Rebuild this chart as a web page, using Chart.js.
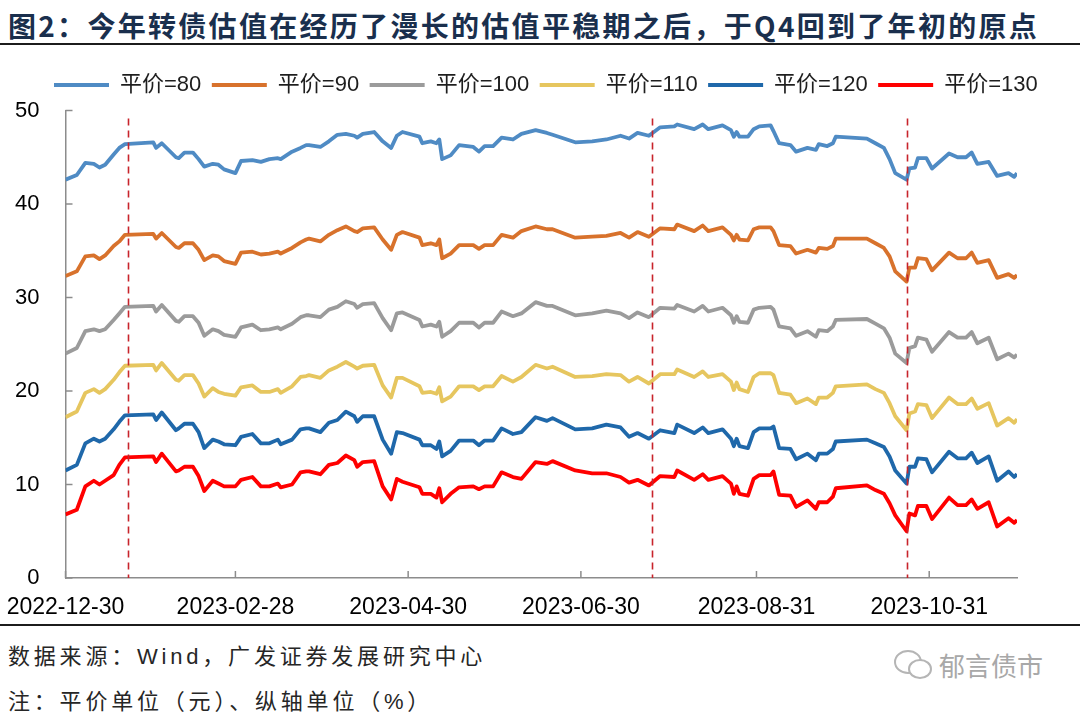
<!DOCTYPE html>
<html>
<head>
<meta charset="utf-8">
<script src="https://cdn.jsdelivr.net/npm/chart.js@4.4.1/dist/chart.umd.min.js"></script>
<style>
  html, body { margin: 0; padding: 0; background: #fff; }
  #page { position: relative; width: 1080px; height: 713px; overflow: hidden; font-family: "Liberation Sans", "Noto Sans CJK SC", sans-serif; }
  #title { position: absolute; left: 8px; top: 5px; font: bold 28px "Noto Sans CJK SC", sans-serif; letter-spacing: 2.3px; color: #1a2f4d; white-space: nowrap; }
  .rule { position: absolute; left: 0; width: 1080px; height: 2px; background: #1c1c1c; }
  #chartBox { position: absolute; left: 0; top: 48px; width: 1080px; height: 577px; }
  .note { position: absolute; left: 8px; font: 22px "Liberation Sans", "Noto Sans CJK SC", sans-serif; letter-spacing: 3.8px; color: #262626; white-space: nowrap; }
  #mark { position: absolute; left: 893px; top: 646px; display: flex; align-items: center; color: #a8a8a8; font: 26px "Noto Sans CJK SC", sans-serif; }
</style>
</head>
<body>
<div id="page">
  <div id="title">图2：今年转债估值在经历了漫长的估值平稳期之后，于Q4回到了年初的原点</div>
  <div class="rule" style="top:43px"></div>
  <div id="chartBox"><canvas id="valChart" width="1080" height="577"></canvas></div>
  <div class="rule" style="top:624px"></div>
  <div class="note" style="top:638px">数据来源：Wind，广发证券发展研究中心</div>
  <div class="note" style="top:683px">注：平价单位（元）、纵轴单位（%）</div>
  <div id="mark">
    <svg width="42" height="34" viewBox="0 0 42 34"><ellipse cx="15" cy="14" rx="13" ry="11" fill="none" stroke="#b5b5b5" stroke-width="2"/><ellipse cx="27" cy="21" rx="11" ry="9" fill="#fff" stroke="#b5b5b5" stroke-width="2"/></svg>
    <span style="margin-left:4px">郁言债市</span>
  </div>
</div>
<script>
  // day offsets from 2022-12-30
  const days = [0, 4, 7, 10, 12, 14, 17, 19, 21, 31, 32, 34, 39, 40, 42, 45, 47, 49, 52, 54, 56, 60, 62, 66, 69, 72, 75, 76, 80, 83, 85,
    86, 90, 93, 96, 99, 102, 103, 105, 109, 112, 115, 117, 119, 125, 126, 129, 131, 132, 133, 136, 139, 144, 146, 148, 151, 154, 158, 161, 166, 170,
    172, 180, 186, 191, 196, 199, 202, 206, 210, 215, 216, 222, 225, 227, 232, 235, 236, 237, 238, 241, 243, 245, 249, 250, 252,
    256, 258, 262, 265, 266, 269, 271, 272, 283, 286, 289, 291, 293, 297, 298, 300, 301, 304, 306, 312, 315, 318, 320, 322, 326, 329, 333, 335, 336];

  const p80 = [42.6, 43.1, 44.4, 44.3, 43.9, 44.2, 45.3, 46.0, 46.4, 46.6, 46.0, 46.5, 45.0, 44.9, 45.5, 45.5, 44.8, 44.0, 44.3, 44.2, 43.7, 43.3, 44.6, 44.7, 44.5, 44.8, 44.9, 44.8, 45.6, 46.0, 46.3,
    46.3, 46.1, 46.7, 47.4, 47.5, 47.3, 47.1, 47.5, 47.7, 46.7, 46.0, 47.3, 47.7, 47.2, 46.5, 46.7, 46.5, 46.9, 44.8, 45.2, 46.3, 46.1, 45.6, 46.2, 46.2, 47.1, 46.9, 47.5, 47.9, 47.6,
    47.4, 46.6, 46.7, 46.9, 47.3, 47.0, 47.6, 47.3, 48.2, 48.3, 48.5, 48.0, 48.5, 48.0, 48.4, 47.9, 47.2, 47.7, 47.2, 47.2, 48.0, 48.3, 48.4, 47.8, 46.5,
    46.3, 45.6, 46.0, 45.8, 46.4, 46.2, 46.5, 47.2, 47.0, 46.5, 46.0, 44.8, 43.3, 42.6, 43.8, 43.9, 44.9, 44.9, 43.8, 45.4, 45.0, 45.0, 45.5, 44.3, 44.5, 43.0, 43.3, 42.9, 43.3];
  const p90 = [32.3, 32.8, 34.4, 34.5, 34.1, 34.5, 35.5, 36.0, 36.7, 36.8, 36.3, 36.9, 35.4, 35.3, 35.8, 35.8, 35.1, 34.0, 34.5, 34.4, 33.9, 33.6, 34.8, 34.9, 34.6, 34.7, 34.9, 34.7, 35.3, 35.9, 36.2,
    36.3, 36.0, 36.7, 37.2, 37.6, 37.1, 37.0, 37.4, 37.5, 36.2, 35.1, 36.7, 37.0, 36.4, 35.6, 35.8, 35.6, 36.2, 34.2, 34.7, 35.6, 35.6, 35.2, 35.6, 35.6, 36.7, 36.4, 37.1, 37.6, 37.3,
    37.3, 36.4, 36.5, 36.6, 36.9, 36.4, 37.0, 36.5, 37.4, 37.3, 37.8, 37.1, 37.7, 37.1, 37.5, 36.7, 36.1, 36.7, 36.2, 36.1, 37.3, 37.5, 37.5, 37.1, 35.6,
    35.5, 34.7, 35.1, 34.8, 35.3, 35.2, 35.5, 36.3, 36.3, 35.8, 35.3, 34.4, 32.8, 31.7, 33.2, 33.2, 34.2, 34.1, 32.9, 34.8, 34.2, 34.2, 34.8, 33.7, 34.0, 32.1, 32.5, 32.1, 32.4];
  const p100 = [24.0, 24.6, 26.4, 26.6, 26.4, 26.6, 27.6, 28.3, 29.0, 29.1, 28.5, 29.2, 27.5, 27.4, 28.0, 28.0, 27.3, 25.9, 26.6, 26.4, 26.0, 25.8, 26.8, 27.1, 26.5, 26.6, 26.8, 26.6, 27.2, 27.9, 28.1,
    28.1, 27.9, 28.7, 29.0, 29.6, 29.3, 28.9, 29.3, 29.4, 27.8, 26.5, 28.3, 28.4, 27.6, 26.9, 27.1, 26.9, 27.4, 25.8, 26.4, 27.3, 27.3, 26.8, 27.3, 27.3, 28.5, 28.0, 28.3, 29.5, 29.1,
    29.1, 28.1, 28.3, 28.6, 28.3, 27.8, 28.4, 27.9, 28.9, 28.8, 29.2, 28.5, 29.1, 28.5, 28.9, 28.1, 27.3, 28.0, 27.4, 27.3, 28.7, 28.9, 29.0, 28.7, 26.9,
    26.7, 25.9, 26.4, 25.8, 26.5, 26.4, 26.9, 27.6, 27.7, 27.2, 26.7, 25.7, 24.0, 23.0, 24.6, 24.8, 25.7, 25.5, 24.2, 26.3, 25.7, 25.7, 26.3, 25.1, 25.7, 23.4, 24.0, 23.6, 23.9];
  const p110 = [17.2, 17.8, 19.8, 20.2, 19.8, 20.2, 21.2, 22.0, 22.7, 22.8, 22.2, 23.0, 21.2, 21.1, 21.7, 21.7, 20.8, 19.4, 20.3, 19.9, 19.7, 19.5, 20.4, 20.6, 19.9, 19.9, 20.2, 19.8, 20.5, 21.5, 21.6,
    21.7, 21.4, 22.2, 22.6, 23.1, 22.6, 22.4, 22.7, 22.8, 20.6, 19.3, 21.4, 21.4, 20.5, 19.8, 19.9, 19.7, 20.4, 18.9, 19.4, 20.5, 20.5, 20.1, 20.5, 20.5, 21.6, 21.0, 21.5, 22.8, 22.4,
    22.6, 21.5, 21.6, 21.8, 21.7, 21.0, 21.5, 20.8, 21.8, 21.8, 22.3, 21.5, 22.1, 21.5, 21.8, 21.0, 20.1, 20.9, 20.2, 19.9, 21.5, 21.9, 21.9, 21.7, 19.8,
    19.6, 18.7, 19.2, 18.6, 19.3, 19.3, 19.8, 20.5, 20.7, 20.2, 19.8, 18.7, 17.3, 15.8, 17.6, 17.8, 18.6, 18.5, 17.1, 19.3, 18.6, 18.6, 19.2, 18.1, 18.7, 16.3, 17.1, 16.6, 17.0];
  const p120 = [11.5, 12.1, 14.4, 14.9, 14.6, 14.9, 15.9, 16.7, 17.4, 17.5, 16.9, 17.7, 15.8, 16.0, 16.5, 16.5, 15.6, 13.9, 14.8, 14.6, 14.3, 14.2, 15.1, 15.4, 14.4, 14.4, 14.8, 14.3, 14.8, 15.9, 16.0,
    16.0, 15.6, 16.6, 16.9, 17.8, 17.3, 16.7, 17.3, 17.3, 14.8, 13.3, 15.6, 15.5, 14.8, 14.2, 14.2, 13.8, 14.6, 13.0, 13.6, 14.7, 14.7, 14.2, 14.7, 14.7, 16.0, 15.4, 15.6, 17.2, 16.8,
    17.1, 15.9, 16.0, 16.4, 16.1, 15.1, 15.5, 14.9, 15.8, 15.5, 16.4, 15.5, 16.1, 15.5, 15.9, 14.9, 14.1, 14.9, 14.1, 13.9, 15.6, 16.0, 16.0, 16.2, 13.9,
    13.8, 12.7, 13.3, 12.6, 13.3, 13.3, 13.8, 14.6, 14.8, 14.4, 14.0, 13.0, 11.5, 10.1, 11.9, 11.9, 12.8, 12.7, 11.3, 13.5, 12.8, 12.8, 13.4, 12.3, 13.0, 10.4, 11.4, 10.8, 11.1];
  const p130 = [6.8, 7.3, 9.8, 10.4, 10.0, 10.4, 11.0, 12.1, 12.9, 13.0, 12.4, 13.3, 11.4, 11.5, 11.9, 11.9, 10.9, 9.3, 10.4, 10.1, 9.8, 9.8, 10.5, 10.8, 9.8, 9.8, 10.1, 9.7, 10.0, 11.3, 11.4,
    11.4, 11.1, 12.1, 12.3, 13.1, 12.6, 11.9, 12.4, 12.5, 9.8, 8.4, 10.6, 10.3, 9.7, 9.0, 9.0, 8.6, 9.6, 8.1, 9.0, 9.7, 9.8, 9.5, 9.8, 9.8, 11.3, 10.8, 10.6, 12.4, 12.2,
    12.5, 11.5, 11.2, 11.2, 10.8, 10.2, 10.5, 9.9, 10.9, 10.8, 11.5, 10.5, 11.1, 10.5, 10.9, 10.1, 9.0, 9.8, 9.0, 8.8, 10.6, 11.0, 11.0, 11.4, 8.9,
    8.8, 7.6, 8.3, 7.4, 8.1, 8.1, 8.7, 9.6, 9.9, 9.4, 9.0, 8.0, 6.7, 5.0, 6.9, 6.7, 7.7, 7.7, 6.3, 8.6, 7.8, 7.8, 8.4, 7.4, 8.1, 5.5, 6.4, 5.9, 6.2];

  const seriesNames = ['平价=80', '平价=90', '平价=100', '平价=110', '平价=120', '平价=130'];
  const seriesValues = [p80, p90, p100, p110, p120, p130];
  const seriesColors = ['#4f8bc4', '#d8722c', '#9b9b9b', '#e6c65f', '#1f68aa', '#ff0000'];

  const tickDays = [0, 60, 121, 182, 244, 305];
  const tickLabels = ['2022-12-30', '2023-02-28', '2023-04-30', '2023-06-30', '2023-08-31', '2023-10-31'];
  const markerDays = [22, 207, 297];
  const yTicks = [0, 10, 20, 30, 40, 50];

  const axisColor = '#8c8c8c';
  const baseFont = '"Liberation Sans", "Noto Sans CJK SC", sans-serif';

  const extras = {
    id: 'extras',
    beforeInit(chart) {
      // one legend row, a little taller, shifted right like the original
      const legend = chart.legend;
      const upd = legend.update;
      legend.update = function (w, h, m) { upd.call(this, w + 120, h, m); };
      const fit = legend.fit;
      legend.fit = function () { fit.call(this); this.height += 4.5; };
    },
    afterLayout(chart) {
      chart.legend.left += 43.5;
      chart.legend.right += 80;
    },
    afterDatasetsDraw(chart) {
      const {ctx, chartArea, scales: {x}} = chart;
      ctx.save();
      ctx.strokeStyle = '#c8242b';
      ctx.lineWidth = 1.6;
      ctx.setLineDash([7, 5]);
      markerDays.forEach(d => {
        const px = Math.round(x.getPixelForValue(d)) + 0.5;
        ctx.beginPath();
        ctx.moveTo(px, chartArea.top + 8);
        ctx.lineTo(px, chartArea.bottom);
        ctx.stroke();
      });
      ctx.restore();
    },
    afterDraw(chart) {
      // tick marks point inward
      const {ctx, chartArea, scales: {x, y}} = chart;
      ctx.save();
      ctx.strokeStyle = axisColor;
      ctx.lineWidth = 1.5;
      y.ticks.forEach(t => {
        const py = y.getPixelForValue(t.value);
        ctx.beginPath();
        ctx.moveTo(chartArea.left, py);
        ctx.lineTo(chartArea.left + 7, py);
        ctx.stroke();
      });
      x.ticks.forEach(t => {
        const px = x.getPixelForValue(t.value);
        ctx.beginPath();
        ctx.moveTo(px, chartArea.bottom);
        ctx.lineTo(px, chartArea.bottom - 7);
        ctx.stroke();
      });
      ctx.restore();
    }
  };

  const ctx = document.getElementById('valChart').getContext('2d');
  new Chart(ctx, {
    type: 'line',
    data: {
      datasets: seriesNames.map((name, i) => ({
        label: name,
        data: days.map((d, j) => ({x: d, y: seriesValues[i][j]})),
        borderColor: seriesColors[i],
        backgroundColor: seriesColors[i],
        borderWidth: 3.8,
        pointRadius: 0,
        tension: 0,
        borderJoinStyle: 'round'
      }))
    },
    options: {
      responsive: false,
      animation: false,
      devicePixelRatio: 1,
      layout: {padding: {top: 15.5, left: 0, right: 63, bottom: 0}},
      plugins: {
        tooltip: {enabled: false},
        legend: {
          position: 'top',
          align: 'start',
          labels: {
            boxWidth: 55,
            boxHeight: 4,
            padding: 10.5,
            color: '#1e1e1e',
            font: {family: baseFont, size: 22},
            generateLabels(chart) {
              const items = Chart.defaults.plugins.legend.labels.generateLabels(chart);
              items.forEach(it => { it.lineWidth = 0; });
              return items;
            }
          }
        }
      },
      scales: {
        x: {
          type: 'linear',
          min: 0,
          max: 336,
          afterFit(scale) { scale.height = 47; },
          afterBuildTicks(scale) { scale.ticks = tickDays.map(v => ({value: v})); },
          // invisible outer ticks only push the labels down
          grid: {display: true, drawOnChartArea: false, drawTicks: true, tickLength: 14, color: 'rgba(0,0,0,0)'},
          border: {display: true, color: axisColor, width: 1.5},
          ticks: {
            autoSkip: false,
            maxRotation: 0,
            padding: 2,
            color: '#000',
            font: {family: baseFont, size: 23},
            callback: v => tickLabels[tickDays.indexOf(v)]
          }
        },
        y: {
          min: 0,
          max: 50,
          afterFit(scale) { scale.width = 65.5; },
          afterBuildTicks(scale) { scale.ticks = yTicks.map(v => ({value: v})); },
          grid: {display: false, drawTicks: false},
          border: {display: true, color: axisColor, width: 1.5},
          ticks: {
            padding: 26,
            color: '#000',
            font: {family: baseFont, size: 22}
          }
        }
      }
    },
    plugins: [extras]
  });
</script>
</body>
</html>
